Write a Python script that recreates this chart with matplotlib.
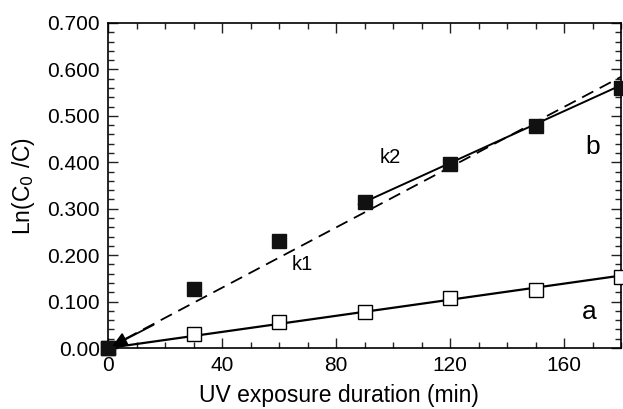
import numpy as np
import matplotlib
matplotlib.use("Agg")
import matplotlib.pyplot as plt
from matplotlib.ticker import MultipleLocator

plt.rcParams['font.family'] = ['Liberation Sans', 'DejaVu Sans']

# Data
time_min = [0, 30, 60, 90, 120, 150, 180]
series_a = [0.0, 0.030, 0.055, 0.078, 0.108, 0.125, 0.153]
series_b = [0.0, 0.128, 0.230, 0.314, 0.396, 0.478, 0.560]

# fitted lines (endpoints)
fit_a_x = [0, 180]
fit_a_y = [0.0, 0.156]
fit_k1_x = [0, 180]
fit_k1_y = [0.0, 0.584]
fit_k2_x = [88, 180]
fit_k2_y = [0.309, 0.566]

ytick_vals = [0.0, 0.1, 0.2, 0.3, 0.4, 0.5, 0.6, 0.7]
ytick_labels = ['0.00', '0.100', '0.200', '0.300', '0.400', '0.500', '0.600', '0.700']
xtick_vals = [0, 40, 80, 120, 160]

fig = plt.figure(figsize=(6.23, 4.09), dpi=100)
ax = fig.add_axes([0.1734, 0.1491, 0.8234, 0.7947])

# fit lines
ax.plot(fit_a_x, fit_a_y, color='black', lw=1.6, zorder=2)
ax.plot(fit_k2_x, fit_k2_y, color='black', lw=1.4, zorder=2)
ax.plot(fit_k1_x, fit_k1_y, color='black', lw=1.3, linestyle=(0, (7, 4)), zorder=2)

# data points
ax.plot(time_min, series_a, linestyle='none', marker='s', markersize=9.5,
        markerfacecolor='white', markeredgecolor='black', markeredgewidth=1.0,
        clip_on=False, zorder=3)
ax.plot(time_min, series_b, linestyle='none', marker='s', markersize=10,
        markerfacecolor='#111111', markeredgecolor='#111111',
        clip_on=False, zorder=4)

# arrow pointing at the origin
ax.annotate('', xy=(1.5, 0.004), xytext=(16, 0.05),
            arrowprops=dict(arrowstyle='-|>', color='black', lw=1.3,
                            mutation_scale=22, shrinkA=0, shrinkB=0),
            annotation_clip=False, zorder=5)

# labels on the plot
ax.text(99, 0.411, 'k2', fontsize=14.5, ha='center', va='center')
ax.text(68, 0.179, 'k1', fontsize=14.5, ha='center', va='center')
ax.text(170, 0.433, 'b', fontsize=19, ha='center', va='center')
ax.text(169, 0.078, 'a', fontsize=19, ha='center', va='center')

ax.set_xlim(0, 180)
ax.set_ylim(0, 0.7)
ax.set_xticks(xtick_vals)
ax.set_yticks(ytick_vals)
ax.set_yticklabels(ytick_labels)
ax.xaxis.set_minor_locator(MultipleLocator(10))
ax.yaxis.set_minor_locator(MultipleLocator(0.02))
ax.tick_params(which='both', direction='in', top=True, right=True,
               width=1.0, color='#222222')
ax.tick_params(axis='y', which='major', labelsize=15, pad=6)
ax.tick_params(axis='x', which='major', labelsize=15, pad=6)
ax.tick_params(which='major', length=7)
ax.tick_params(which='minor', length=4)
for sp in ax.spines.values():
    sp.set_linewidth(1.2)

ax.set_xlabel('UV exposure duration (min)', fontsize=16.5)
ax.xaxis.set_label_coords(0.45, -0.112)
ax.set_ylabel('Ln(C$_0$ /C)', fontsize=16.5, labelpad=7)

fig.savefig('out.png', dpi=100)
